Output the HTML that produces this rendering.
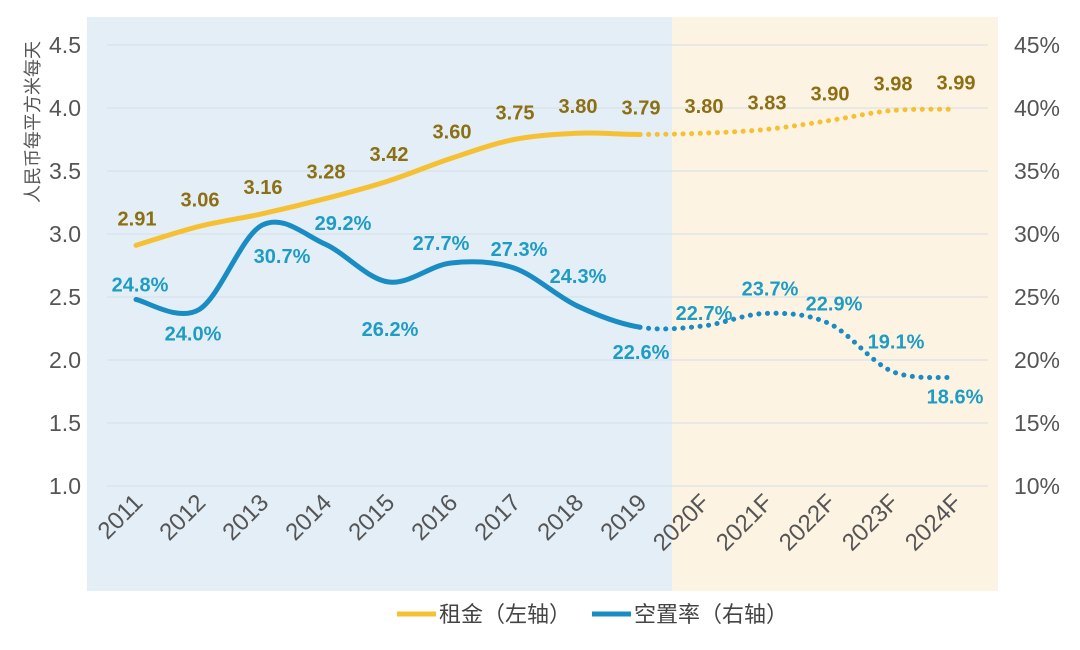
<!DOCTYPE html>
<html><head><meta charset="utf-8"><style>
body{margin:0;background:#fff;}
svg{display:block;font-family:"Liberation Sans","Noto Sans CJK SC",sans-serif;}
</style></head><body>
<svg id="chart" width="1080" height="650" viewBox="0 0 1080 650">
<rect x="87" y="17" width="585" height="574" fill="#e3eef7"/>
<rect x="672" y="17" width="326" height="574" fill="#fdf3e3"/>
<g id="grid"></g><g id="axes"></g><g id="lines"></g><g id="labels"></g>
<text transform="translate(39,122) rotate(-90)" text-anchor="middle" font-size="18" fill="#555">人民币每平方米每天</text>
<g>
<line x1="397" y1="614" x2="436" y2="614" stroke="#f5c133" stroke-width="5"/>
<text x="439" y="622" font-size="22" fill="#444">租金（左轴）</text>
<line x1="592" y1="614" x2="631" y2="614" stroke="#1a8cc4" stroke-width="5"/>
<text x="634" y="622" font-size="22" fill="#444">空置率（右轴）</text>
</g>
</svg>
<script>
const categories=["2011","2012","2013","2014","2015","2016","2017","2018","2019","2020F","2021F","2022F","2023F","2024F"];
const rent=[2.91,3.06,3.16,3.28,3.42,3.60,3.75,3.80,3.79,3.80,3.83,3.90,3.98,3.99];
const vacancy=[24.8,24.0,30.7,29.2,26.2,27.7,27.3,24.3,22.6,22.7,23.7,22.9,19.1,18.6];
const leftTicks=[1.0,1.5,2.0,2.5,3.0,3.5,4.0,4.5];
const rightTicks=[10,15,20,25,30,35,40,45];
const lastActual=8;
// label offsets (styling)
const vOff=[[4,-8],[-6,31],[20,38],[18,-14],[2,54],[-10,-13],[5,-12],[1,-23],[1,32],[1,-6],[4,-18],[5,-13],[4,-23],[0,26]];
const NS="http://www.w3.org/2000/svg";
const x=i=>136+i*63;
const yL=v=>486-(v-1)*126;
const yR=v=>486-(v-10)*12.6;
function el(t,a,p,txt){const e=document.createElementNS(NS,t);for(const k in a)e.setAttribute(k,a[k]);if(txt!=null)e.textContent=txt;document.getElementById(p).appendChild(e);return e;}
leftTicks.forEach(t=>{
 const g=el("line",{x1:107,x2:988,y1:yL(t),y2:yL(t),stroke:"#d4dde6","stroke-width":1},"grid");
 
 
 const l=el("text",{x:81,y:yL(t)+8,"text-anchor":"end","font-size":23,fill:"#555"},"axes",t.toFixed(1));
 
 
});
rightTicks.forEach(t=>{
 const l=el("text",{x:1060,y:yR(t)+8,"text-anchor":"end","font-size":23,fill:"#555"},"axes",t+"%");
 
 
});
categories.forEach((c,i)=>{
 const l=el("text",{transform:`translate(${x(i)+8},${504}) rotate(-45)`,"text-anchor":"end","font-size":24,fill:"#555"},"axes",c);
 
 
});
function seg(pts,a,b){
 let d=`M${pts[a][0]},${pts[a][1]}`;
 for(let i=a;i<b;i++){
  const p0=pts[Math.max(i-1,0)],p1=pts[i],p2=pts[i+1],p3=pts[Math.min(i+2,pts.length-1)];
  const t=6;
  d+=` C${p1[0]+(p2[0]-p0[0])/t},${p1[1]+(p2[1]-p0[1])/t} ${p2[0]-(p3[0]-p1[0])/t},${p2[1]-(p3[1]-p1[1])/t} ${p2[0]},${p2[1]}`;
 }
 return d;
}
function series(vals,yf,color,name){
 const pts=vals.map((v,i)=>[x(i),yf(v)]);
 const s=el("path",{d:seg(pts,0,lastActual),fill:"none",stroke:color,"stroke-width":5,"stroke-linecap":"round"},"lines");
 
 
 const f=el("path",{d:seg(pts,lastActual,pts.length-1),fill:"none",stroke:color,"stroke-width":5,"stroke-linecap":"round","stroke-dasharray":"0.1 8.5"},"lines");
 
 
}
series(rent,yL,"#f5c133","rent");
series(vacancy,yR,"#1a8cc4","vacancy");
rent.forEach((v,i)=>{
 const t=el("text",{x:x(i)+1,y:yL(v)-20,"text-anchor":"middle","font-size":20,"font-weight":"bold",fill:"#8c6f12"},"labels",v.toFixed(2));
 
 
});
vacancy.forEach((v,i)=>{
 const t=el("text",{x:x(i)+vOff[i][0],y:yR(v)+vOff[i][1],"text-anchor":"middle","font-size":20,"font-weight":"bold",fill:"#1e9cc4"},"labels",v.toFixed(1)+"%");
 
 
});
</script>
</body></html>
